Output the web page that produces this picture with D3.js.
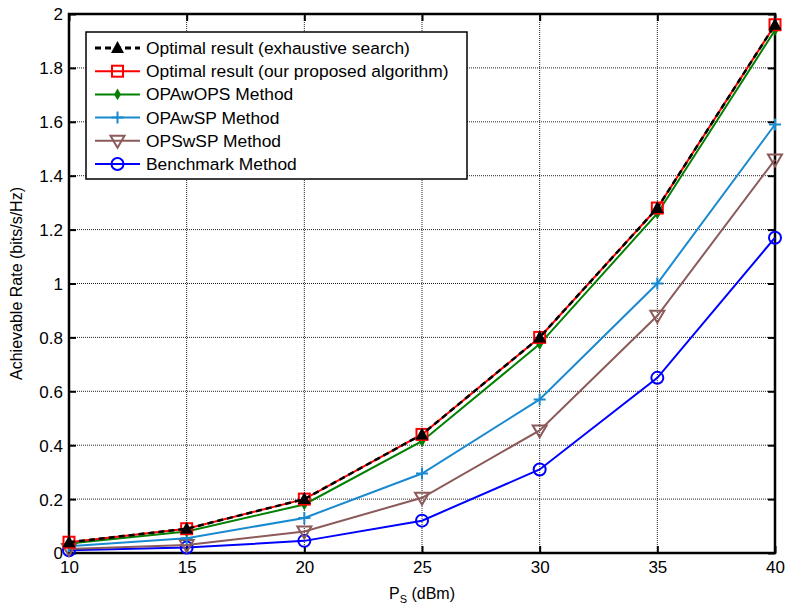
<!DOCTYPE html>
<html><head><meta charset="utf-8">
<script src="https://d3js.org/d3.v7.min.js"></script>
<style>body{margin:0;background:#fff}svg{display:block}text{font-family:"Liberation Sans",Arial,sans-serif}</style>
</head><body><svg id="c" width="786" height="607"></svg>
<script>
const xValues=[10,15,20,25,30,35,40];
const exhaustive=[0.04,0.09,0.2,0.44,0.8,1.28,1.96];
const proposed=[0.04,0.09,0.2,0.44,0.8,1.28,1.96];
const opawops=[0.035,0.08,0.18,0.415,0.775,1.26,1.94];
const opawsp=[0.025,0.055,0.13,0.295,0.57,1.0,1.59];
const opswsp=[0.015,0.03,0.08,0.205,0.455,0.88,1.46];
const benchmark=[0.01,0.02,0.045,0.12,0.31,0.65,1.17];
const xTicks=[10,15,20,25,30,35,40];
const yTicks=[0,0.2,0.4,0.6,0.8,1,1.2,1.4,1.6,1.8,2];
const seriesNames=["Optimal result (exhaustive search)","Optimal result (our proposed algorithm)","OPAwOPS Method","OPAwSP Method","OPSwSP Method","Benchmark Method"];
const seriesColors=["#000000","#ff0000","#008000","#1a8ad0","#8c5a5a","#0000ff"];
const seriesMarkers=["triangle","square","star","plus","tridown","circle"];
const seriesData=[exhaustive,proposed,opawops,opawsp,opswsp,benchmark];

const svg=d3.select("#c");
const L=69,R=775,T=14,B=553;
const x=d3.scaleLinear().domain([10,40]).range([L,R]);
const y=d3.scaleLinear().domain([0,2]).range([B,T]);

// grid
const g=svg.append("g");
g.selectAll(".gx").data(xTicks.slice(1,-1)).join("line")
 .attr("x1",d=>x(d)).attr("x2",d=>x(d)).attr("y1",T).attr("y2",B)
 .attr("stroke","#000").attr("stroke-width",1).attr("stroke-dasharray","1,1").attr("opacity",0.85);
g.selectAll(".gy").data(yTicks.slice(1,-1)).join("line")
 .attr("y1",d=>y(d)).attr("y2",d=>y(d)).attr("x1",L).attr("x2",R)
 .attr("stroke","#000").attr("stroke-width",1).attr("stroke-dasharray","1,1").attr("opacity",0.85);

// axes
const xa=svg.append("g").attr("transform",`translate(0,${B})`).call(d3.axisBottom(x).tickValues(xTicks).tickSize(-7).tickPadding(5).tickFormat(d3.format("d")));
const ya=svg.append("g").attr("transform",`translate(${L},0)`).call(d3.axisLeft(y).tickValues(yTicks).tickSize(-7).tickPadding(6).tickFormat(d=>d===0?"0":d3.format("")(d)));
const xt=svg.append("g").attr("transform",`translate(0,${T})`).call(d3.axisTop(x).tickValues(xTicks).tickSize(-7).tickFormat(""));
const yr=svg.append("g").attr("transform",`translate(${R},0)`).call(d3.axisRight(y).tickValues(yTicks).tickSize(-7).tickFormat(""));
[xa,ya,xt,yr].forEach(a=>{a.select(".domain").remove();a.selectAll("line").attr("stroke","#000").attr("stroke-width",2);a.selectAll("text").attr("font-size",17).attr("fill","#000").attr("font-family","Liberation Sans, Arial, sans-serif");});
xa.selectAll("text").attr("dy","0.9em");
ya.selectAll("text").attr("dy","0.35em");
svg.append("rect").attr("x",L).attr("y",T).attr("width",R-L).attr("height",B-T).attr("fill","none").attr("stroke","#000").attr("stroke-width",2.5);

// labels
const xl=svg.append("text").attr("x",(L+R)/2).attr("y",599).attr("text-anchor","middle").attr("font-size",16);
xl.append("tspan").text("P");
xl.append("tspan").attr("font-size",11).attr("dy",4).text("S");
xl.append("tspan").attr("dy",-4).text(" (dBm)");
svg.append("text").attr("transform",`translate(22,${(T+B)/2}) rotate(-90)`).attr("text-anchor","middle").attr("font-size",16).text("Achievable Rate (bits/s/Hz)");

function marker(sel,type,color,cx,cy){
  const s=sel.append("g").attr("transform",`translate(${cx},${cy})`);
  if(type==="triangle") s.append("path").attr("d","M0,-7L6.5,5L-6.5,5Z").attr("fill","#000");
  else if(type==="square") s.append("rect").attr("x",-5.5).attr("y",-5.5).attr("width",11).attr("height",11).attr("fill","none").attr("stroke",color).attr("stroke-width",2);
  else if(type==="star") s.append("path").attr("d",d3.symbol(d3.symbolDiamond,40)()).attr("fill",color);
  else if(type==="plus") s.append("path").attr("d","M-6,0H6M0,-6V6").attr("stroke",color).attr("stroke-width",2);
  else if(type==="tridown") s.append("path").attr("d","M-7,-5L7,-5L0,7Z").attr("fill","none").attr("stroke",color).attr("stroke-width",2);
  else if(type==="circle") s.append("circle").attr("r",6).attr("fill","none").attr("stroke",color).attr("stroke-width",2);
}

const line=d3.line().x((d,i)=>x(xValues[i])).y(d=>y(d));
const order=[5,4,3,2,1,0];
order.forEach(k=>{
  svg.append("path").datum(seriesData[k]).attr("d",line).attr("fill","none")
   .attr("stroke",seriesColors[k]).attr("stroke-width",k===0?2.5:2)
   .attr("stroke-dasharray",k===0?"6,4":null);
  seriesData[k].forEach((v,i)=>marker(svg,seriesMarkers[k],seriesColors[k],x(xValues[i]),y(v)));
});

// legend
const lg=svg.append("g");
lg.append("rect").attr("x",86).attr("y",32).attr("width",381).attr("height",147).attr("fill","#fff").attr("stroke","#000").attr("stroke-width",1.5);
seriesNames.forEach((n,i)=>{
  const yy=48+i*23.2;
  lg.append("line").attr("x1",95).attr("x2",140).attr("y1",yy).attr("y2",yy).attr("stroke",seriesColors[i]).attr("stroke-width",i===0?3:2).attr("stroke-dasharray",i===0?"6,4":null);
  marker(lg,seriesMarkers[i],seriesColors[i],117.5,yy);
  lg.append("text").attr("x",146).attr("y",yy).attr("dy","0.35em").attr("font-size",17.4).text(n);
});
</script></body></html>
